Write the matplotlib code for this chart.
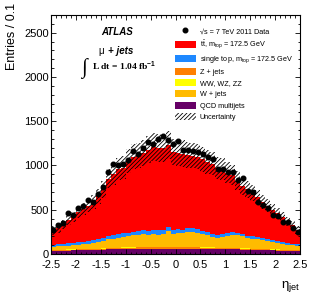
import numpy as np
import matplotlib
matplotlib.use("Agg")
import matplotlib.pyplot as plt
from matplotlib.ticker import MultipleLocator, FixedLocator, FixedFormatter
from matplotlib.patches import Patch
from matplotlib.lines import Line2D

plt.rcParams['font.family'] = ['Liberation Sans', 'DejaVu Sans']
plt.rcParams['mathtext.fontset'] = 'custom'
plt.rcParams['mathtext.rm'] = 'Liberation Sans'
plt.rcParams['mathtext.it'] = 'Liberation Sans:italic'
plt.rcParams['mathtext.bf'] = 'Liberation Sans:bold'
plt.rcParams['axes.unicode_minus'] = False
plt.rcParams['hatch.linewidth'] = 0.6

# ---------------- data ----------------
bin_edges = np.round(np.linspace(-2.5, 2.5, 51), 2)

data = [270, 328, 347, 460, 441, 517, 543, 611, 592, 679,
        762, 924, 1018, 1010, 1020, 1063, 1158, 1128, 1200, 1260,
        1244, 1297, 1335, 1285, 1244, 1278, 1180, 1180, 1163, 1153,
        1130, 1101, 1071, 958, 958, 931, 924, 837, 856, 713,
        705, 592, 554, 517, 441, 430, 365, 365, 291, 245]

qcd = [36, 37, 38, 39, 40, 41, 42, 44, 45, 47,
       50, 52, 54, 56, 57, 58, 59, 60, 61, 61,
       62, 62, 62, 62, 62, 62, 62, 61, 61, 60,
       59, 58, 57, 56, 55, 54, 53, 52, 50, 48,
       46, 45, 44, 42, 40, 39, 38, 37, 36, 35]

wjets = [36, 40, 43, 44, 48, 52, 54, 60, 66, 73,
         85, 97, 105, 113, 121, 125, 133, 136, 142, 140,
         144, 139, 149, 174, 149, 154, 151, 165, 170, 161,
         148, 134, 121, 113, 119, 135, 146, 145, 135, 117,
         115, 111, 102, 96, 88, 74, 66, 57, 51, 44]

diboson = [2, 2, 2, 2, 2, 2, 3, 3, 3, 3,
           3, 3, 3, 3, 3, 3, 4, 4, 4, 4,
           4, 4, 4, 4, 4, 4, 4, 4, 4, 4,
           4, 4, 3, 3, 3, 3, 3, 3, 3, 3,
           3, 3, 3, 2, 2, 2, 2, 2, 2, 2]

zjets = [9, 9, 9, 10, 10, 10, 11, 11, 11, 12,
         12, 13, 13, 13, 14, 14, 14, 15, 15, 15,
         15, 15, 15, 15, 15, 15, 15, 15, 15, 15,
         14, 14, 14, 13, 13, 13, 13, 12, 12, 12,
         11, 11, 11, 10, 10, 10, 9, 9, 9, 9]

singletop = [22, 23, 24, 24, 25, 26, 27, 28, 29, 30,
             32, 33, 35, 37, 38, 40, 42, 43, 44, 45,
             46, 46, 46, 55, 46, 45, 44, 44, 43, 42,
             40, 38, 36, 34, 33, 32, 31, 30, 29, 28,
             27, 26, 25, 24, 23, 22, 21, 20, 20, 20]

ttbar = [160, 184, 219, 261, 295, 339, 368, 399, 431, 485,
         548, 652, 690, 738, 742, 810, 848, 852, 874, 915,
         939, 934, 919, 925, 874, 860, 859, 831, 817, 818,
         805, 792, 789, 751, 742, 683, 644, 588, 541, 522,
         488, 444, 405, 371, 337, 313, 284, 245, 212, 160]

uncertainty = [55, 55, 50, 52, 57, 62, 66, 71, 76, 85,
               95, 110, 117, 125, 127, 137, 143, 144, 148, 153,
               157, 156, 155, 160, 150, 148, 148, 146, 144, 143,
               139, 135, 133, 126, 125, 120, 116, 108, 100, 95,
               90, 83, 77, 71, 65, 60, 55, 50, 48, 45]

xtick_values = [-2.5, -2, -1.5, -1, -0.5, 0, 0.5, 1, 1.5, 2, 2.5]
xtick_labels = ['-2.5', '-2', '-1.5', '-1', '-0.5', '0', '0.5', '1', '1.5', '2', '2.5']
ytick_values = [0, 500, 1000, 1500, 2000, 2500]
ytick_labels = ['0', '500', '1000', '1500', '2000', '2500']

names = {
    'qcd': 'QCD multijets',
    'z': 'Z + jets',
    'vv': 'WW, WZ, ZZ',
    'w': 'W + jets',
    'st': 'single top, m$_{\\rm top}$ = 172.5 GeV',
    'tt': 't$\\bar{\\rm t}$, m$_{\\rm top}$ = 172.5 GeV',
}
colors = {
    'qcd': '#660066',
    'z': '#FF7F00',
    'vv': '#FFFF00',
    'w': '#FFBB00',
    'st': '#1E88FF',
    'tt': '#FF0000',
}
values = {'qcd': qcd, 'z': zjets, 'vv': diboson, 'w': wjets, 'st': singletop, 'tt': ttbar}
stack_order = ['qcd', 'z', 'vv', 'w', 'st', 'tt']
legend_order = ['tt', 'st', 'z', 'vv', 'w', 'qcd']

W, H = 316, 303
fig = plt.figure(figsize=(W / 100, H / 100), dpi=100)
ax = fig.add_axes([51 / W, 1 - 254 / H, (300 - 51) / W, (254 - 15) / H])

bottom = np.zeros(len(data))
for key in stack_order:
    top = bottom + np.array(values[key], dtype=float)
    ax.stairs(top, bin_edges, baseline=bottom, fill=True, color=colors[key], linewidth=0)
    bottom = top
mc_total = bottom

unc = np.array(uncertainty, dtype=float)
ax.stairs(mc_total + unc, bin_edges, baseline=mc_total - unc, fill=True,
          facecolor='none', edgecolor='black', hatch='////////', linewidth=0)

centers = 0.5 * (bin_edges[:-1] + bin_edges[1:])
ax.plot(centers, data, 'o', color='black', markersize=3.3, zorder=5)

ax.set_xlim(-2.5, 2.5)
ax.set_ylim(0, 2700)
ax.xaxis.set_major_locator(FixedLocator(xtick_values))
ax.xaxis.set_major_formatter(FixedFormatter(xtick_labels))
ax.xaxis.set_minor_locator(MultipleLocator(0.1))
ax.yaxis.set_major_locator(FixedLocator(ytick_values))
ax.yaxis.set_major_formatter(FixedFormatter(ytick_labels))
ax.yaxis.set_minor_locator(MultipleLocator(100))
ax.tick_params(which='both', direction='in', top=True, right=True, width=0.6)
ax.tick_params(which='major', length=3.6, labelsize=8)
ax.tick_params(axis='x', which='major', pad=4)
ax.tick_params(axis='y', which='major', pad=1.5)
ax.tick_params(which='minor', length=1.8)
for s in ax.spines.values():
    s.set_linewidth(0.8)

fig.text(12 / W, 1 - 3 / H, 'Entries / 0.1', rotation=90, ha='center', va='top', fontsize=9)
fig.text(300 / W, 1 - 279 / H, 'η$_{\\rm jet}$', ha='right', va='top', fontsize=9.5)

fig.text(117 / W, 1 - 32 / H, 'ATLAS', ha='center', va='center', fontsize=7,
         fontweight='bold', fontstyle='italic')
fig.text(98 / W, 1 - 51 / H, 'μ', ha='left', va='center', fontsize=7)
fig.text(108 / W, 1 - 51 / H, '+ jets', ha='left', va='center', fontsize=7,
         fontweight='bold', fontstyle='italic')
fig.text(81 / W, 1 - 68 / H, '∫', ha='left', va='center', fontsize=15,
         family=['Liberation Serif', 'DejaVu Serif'])
fig.text(92 / W, 1 - 66 / H, 'L dt = 1.04 fb$^{\\mathbf{-1}}$', ha='left', va='center',
         fontsize=6.8, fontweight='bold', family=['Liberation Serif', 'DejaVu Serif'])

handles = [Line2D([], [], marker='o', color='black', linestyle='none', markersize=3.3)]
labels = ['√s = 7 TeV 2011 Data']
for key in legend_order:
    handles.append(Patch(facecolor=colors[key], edgecolor='none'))
    labels.append(names[key])
handles.append(Patch(facecolor='none', edgecolor='black', hatch='////////', linewidth=0))
labels.append('Uncertainty')

fig.legend(handles, labels, loc='upper left', bbox_to_anchor=(175 / W, 1 - 27.5 / H),
           frameon=False, fontsize=5.2, handlelength=2.9, handleheight=1.1,
           handletextpad=0.55, labelspacing=0.45, borderpad=0, borderaxespad=0)

fig.savefig('out.png', dpi=100)
